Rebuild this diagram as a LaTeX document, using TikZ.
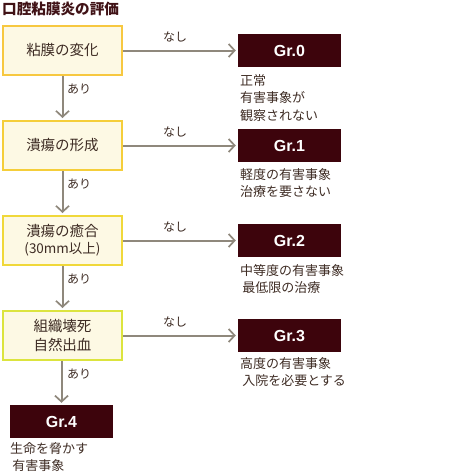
\documentclass[tikz,border=0pt]{standalone}
\usepackage{fontspec}
\setmainfont{Noto Sans CJK JP}
\newfontfamily\grfont{Liberation Sans}
\usetikzlibrary{arrows.meta,positioning}

\definecolor{grmaroon}{RGB}{61,4,12}
\definecolor{cream}{RGB}{253,249,228}
\definecolor{ink}{RGB}{62,44,36}
\definecolor{titlecol}{RGB}{64,18,22}
\definecolor{flowgray}{RGB}{143,136,124}
\definecolor{bordA}{RGB}{247,200,64}
\definecolor{bordB}{RGB}{245,206,58}
\definecolor{bordC}{RGB}{240,216,58}
\definecolor{bordD}{RGB}{220,228,62}

\begin{document}
\begin{tikzpicture}[x=1pt,y=-1pt,
    stage/.style={draw=#1, line width=2pt, fill=cream, minimum width=119pt,
      minimum height=49pt, inner sep=0pt, align=center, text=ink,
      font=\fontsize{14.5}{18}\selectfont},
    grade/.style={fill=grmaroon, minimum width=103pt, minimum height=33pt,
      inner sep=0pt, text=white, font=\grfont\bfseries\fontsize{16}{18}\selectfont},
    desc/.style={anchor=north west, inner sep=0pt, align=left, text=ink,
      font=\fontsize{13}{17.5}\selectfont},
    lbl/.style={inner sep=0pt, text=ink, font=\fontsize{12}{14}\selectfont},
    flow/.style={draw=flowgray, line width=2pt, shorten >=2pt,
      -{Straight Barb[length=6pt,width=13pt,line width=1.7pt]}}]
    \useasboundingbox (0,0) rectangle (454,474);

    % Title
    \node[anchor=west, inner sep=0pt, text=titlecol,
      font=\bfseries\fontsize{14.6}{16}\selectfont] (title) at (2,8.5) {口腔粘膜炎の評価};

    % Stages on the left
    \node[stage=bordA] (s1) at (62.5,50.5) {粘膜の変化};
    \node[stage=bordB] (s2) at (62.5,145.5) {潰瘍の形成};
    \node[stage=bordC] (s3) at (62.5,240.5) {潰瘍の癒合\\[-1pt]{\fontsize{13.5}{15}\selectfont (30mm以上)}};
    \node[stage=bordD] (s4) at (62.5,335.5) {組織壊死\\[1pt]自然出血};

    % Grades on the right
    \node[grade] (g0) at (289.5,50.5) {Gr.0};
    \node[grade] (g1) at (289.5,145.5) {Gr.1};
    \node[grade] (g2) at (289.5,240.5) {Gr.2};
    \node[grade] (g3) at (289.5,335.5) {Gr.3};
    \node[grade] (g4) at (61.5,421.5) {Gr.4};

    % Descriptions below the grades
    \node[desc] (d0) at (240,74) {正常\\有害事象が\\観察されない};
    \node[desc] (d1) at (240,168) {軽度の有害事象\\治療を要さない};
    \node[desc] (d2) at (240,264) {中等度の有害事象\\\,最低限の治療};
    \node[desc] (d3) at (240,357) {高度の有害事象\\\,入院を必要とする};
    \node[desc] (d4) at (10,442) {生命を脅かす\\\,有害事象};

    % "none" branches
    \draw[flow] (s1.east) -- (g0.west);
    \draw[flow] (s2.east) -- (g1.west);
    \draw[flow] (s3.east) -- (g2.west);
    \draw[flow] (s4.east) -- (g3.west);
    \node[lbl] (n0) at (175,37) {なし};
    \node[lbl] (n1) at (175,132) {なし};
    \node[lbl] (n2) at (175,227) {なし};
    \node[lbl] (n3) at (175,322) {なし};

    % "present" branches
    \draw[flow] (s1.south) -- (s2.north);
    \draw[flow] (s2.south) -- (s3.north);
    \draw[flow] (s3.south) -- (s4.north);
    \draw[flow] ([xshift=-1pt]s4.south) -- (g4.north);
    \node[lbl] (a1) at (79,89) {あり};
    \node[lbl] (a2) at (79,184) {あり};
    \node[lbl] (a3) at (79,279) {あり};
    \node[lbl] (a4) at (79,374) {あり};
  \end{tikzpicture}
\end{document}
